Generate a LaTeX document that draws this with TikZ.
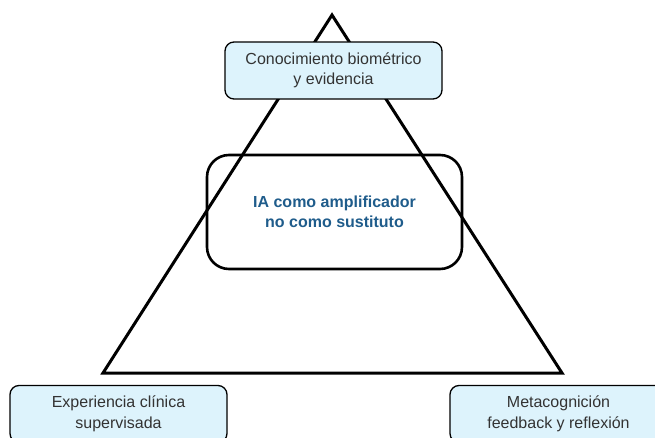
\documentclass[tikz,border=0pt]{standalone}
\usepackage{fontspec}
\setmainfont{Liberation Sans}
\usetikzlibrary{positioning}
\definecolor{boxfill}{HTML}{DDF3FC}
\definecolor{boxtext}{HTML}{333333}
\definecolor{coreblue}{HTML}{1F5C8B}
\tikzset
{
    infobox/.style = {rectangle, rounded corners=9pt, draw=black, line width=1.3pt, fill=boxfill, align=center, text=boxtext, font=\fontsize{16}{20.5}\selectfont, minimum width=217pt, minimum height=57pt, inner sep=0pt},
    corebox/.style = {rectangle, rounded corners=22pt, draw=black, line width=2.6pt, align=center, text=coreblue, font=\bfseries\fontsize{16}{19.5}\selectfont, minimum width=255pt, minimum height=114pt, inner sep=0pt},
    pyramid/.style = {draw=black, line width=3pt, line join=miter}
}

\begin{document}
\begin{tikzpicture}[x=1pt, y=-1pt]
\useasboundingbox (0,0) rectangle (655,438);
\clip (0,0) rectangle (655,438);
% triangle corners
\coordinate (apex) at (332,15);
\coordinate (left) at (103,373);
\coordinate (right) at (562,373);
\draw[pyramid] (apex) -- (left) -- (right) -- cycle;
% boxes
\node[corebox] (core) at (334.5,212) {IA como amplificador\\no como sustituto};
\node[infobox] (top) at (333.5,70.5) {Conocimiento biométrico\\y evidencia};
\node[infobox] (exp) at (118.5,414) {Experiencia clínica\\supervisada};
\node[infobox] (meta) at (558.5,414) {Metacognición\\feedback y reflexión};
\end{tikzpicture}
\end{document}
